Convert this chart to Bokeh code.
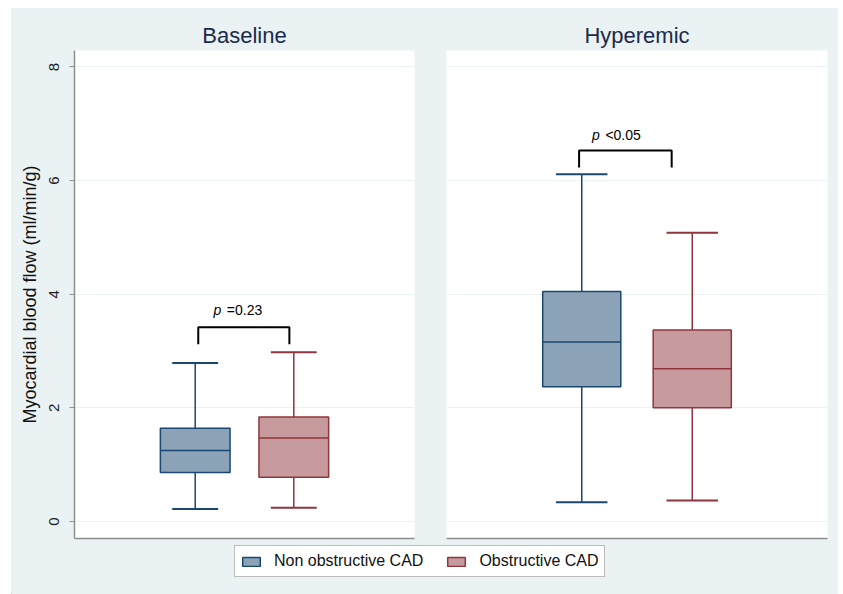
from bokeh.plotting import figure
from bokeh.models import Range1d, FixedTicker, Legend, LegendItem, ColumnDataSource
from bokeh.layouts import column, row
from bokeh.embed import file_html
from bokeh.resources import INLINE
from bokeh.core.properties import value

# ---------------- data ----------------
groups = ["Non obstructive CAD", "Obstructive CAD"]
panels = ["Baseline", "Hyperemic"]

base_lower = [0.22, 0.24]
base_q1 = [0.86, 0.78]
base_median = [1.25, 1.47]
base_q3 = [1.64, 1.84]
base_upper = [2.79, 2.98]

hyp_lower = [0.34, 0.37]
hyp_q1 = [2.37, 2.00]
hyp_median = [3.16, 2.69]
hyp_q3 = [4.05, 3.37]
hyp_upper = [6.11, 5.08]

p_labels = ["=0.23", "<0.05"]
y_ticks = [0, 2, 4, 6, 8]

# ---------------- styling / positions ----------------
BG = "#eaf2f3"
FONT = "Liberation Sans"
fills = ["#8ca3b7", "#c79a9d"]
lines = ["#1a476f", "#90353b"]
box_pos = [0.355, 0.645]
box_w = 0.205
cap_w = 0.135
bracket_x = [(0.364, 0.632), (0.348, 0.591)]
bracket_y = [(3.42, 3.12), (6.53, 6.23)]
ptext_x = [(0.409, 0.448), (0.382, 0.417)]
ptext_y = [3.72, 6.81]

stats = [
    (base_lower, base_q1, base_median, base_q3, base_upper),
    (hyp_lower, hyp_q1, hyp_median, hyp_q3, hyp_upper),
]


def make_panel(i, width, bl, br, show_y):
    p = figure(width=width, height=536, output_backend="svg", toolbar_location=None,
               x_range=Range1d(0, 1), y_range=Range1d(-0.3, 8.29),
               min_border_left=bl, min_border_right=br, min_border_top=42,
               min_border_bottom=6)
    p.border_fill_color = BG
    p.background_fill_color = "white"
    p.outline_line_color = None
    p.title.text = panels[i]
    p.title.align = "center"
    p.title.text_font = FONT
    p.title.text_font_size = "22px"
    p.title.text_font_style = "normal"
    p.title.text_color = "#1c2b4d"
    p.title.standoff = 6

    # axes
    p.xaxis.ticker = FixedTicker(ticks=[])
    p.xaxis.major_tick_line_color = None
    p.xaxis.minor_tick_line_color = None
    p.xaxis.major_label_standoff = 0
    p.xaxis.axis_line_color = "#8e8e8e"
    p.xaxis.axis_line_width = 1.5
    p.xgrid.visible = False

    p.yaxis.ticker = FixedTicker(ticks=y_ticks)
    p.ygrid.ticker = FixedTicker(ticks=y_ticks)
    p.ygrid.grid_line_color = BG
    p.ygrid.grid_line_width = 1
    if show_y:
        p.yaxis.axis_label = "Myocardial blood flow (ml/min/g)"
        p.yaxis.axis_label_text_font = FONT
        p.yaxis.axis_label_text_font_size = "18px"
        p.yaxis.axis_label_text_font_style = "normal"
        p.yaxis.axis_label_text_color = "#111111"
        p.yaxis.axis_label_standoff = 7
        p.yaxis.major_label_orientation = "vertical"
        p.yaxis.major_label_text_font = FONT
        p.yaxis.major_label_text_font_size = "15px"
        p.yaxis.major_label_text_color = "#222222"
        p.yaxis.major_label_standoff = 10
        p.yaxis.axis_line_color = "#8e8e8e"
        p.yaxis.axis_line_width = 1.5
        p.yaxis.major_tick_line_color = "#8e8e8e"
        p.yaxis.major_tick_out = 5
        p.yaxis.major_tick_in = 0
        p.yaxis.minor_tick_line_color = None
    else:
        p.yaxis.visible = False

    lo, q1, med, q3, up = stats[i]
    src = ColumnDataSource(dict(
        x=box_pos, lo=lo, q1=q1, med=med, q3=q3, up=up,
        xl=[b - box_w / 2 for b in box_pos], xr=[b + box_w / 2 for b in box_pos],
        cl=[b - cap_w / 2 for b in box_pos], cr=[b + cap_w / 2 for b in box_pos],
        fill=fills, line=lines))
    # whiskers
    p.segment(x0="x", y0="q3", x1="x", y1="up", line_color="line", line_width=1.5, source=src)
    p.segment(x0="x", y0="lo", x1="x", y1="q1", line_color="line", line_width=1.5, source=src)
    p.segment(x0="cl", y0="up", x1="cr", y1="up", line_color="line", line_width=2, source=src)
    p.segment(x0="cl", y0="lo", x1="cr", y1="lo", line_color="line", line_width=2, source=src)
    # boxes
    p.vbar(x="x", width=box_w, bottom="q1", top="q3", fill_color="fill",
           line_color="line", line_width=1.5, source=src)
    p.segment(x0="xl", y0="med", x1="xr", y1="med", line_color="line", line_width=1.5, source=src)

    # bracket
    bx0, bx1 = bracket_x[i]
    byt, byb = bracket_y[i]
    p.line(x=[bx0, bx0, bx1, bx1], y=[byb, byt, byt, byb], line_color="black", line_width=2)
    tx0, tx1 = ptext_x[i]
    p.text(x=[tx0], y=[ptext_y[i]], text=["p"], text_font=value(FONT), text_font_size="14px",
           text_font_style="italic", text_baseline="middle", text_align="left", text_color="black")
    p.text(x=[tx1], y=[ptext_y[i]], text=[p_labels[i]], text_font=value(FONT), text_font_size="14px",
           text_baseline="middle", text_align="left", text_color="black")
    return p


p1 = make_panel(0, 419, 63, 16, True)
p2 = make_panel(1, 408, 16, 11, False)

# legend figure
p3 = figure(width=827, height=50, output_backend="svg", toolbar_location=None,
            x_range=Range1d(0, 1), y_range=Range1d(0, 1),
            x_axis_type=None, y_axis_type=None,
            min_border_left=0, min_border_right=0, min_border_top=0, min_border_bottom=0)
p3.border_fill_color = BG
p3.background_fill_color = BG
p3.outline_line_color = None
p3.xgrid.visible = False
p3.ygrid.visible = False
items = []
for g, f, l in zip(groups, fills, lines):
    r = p3.vbar(x=[-5], top=[-5], bottom=[-6], width=0.1, fill_color=f, line_color=l, line_width=1.5)
    items.append(LegendItem(label=g, renderers=[r]))
leg = Legend(items=items, orientation="horizontal", location=(223, 17),
             label_text_font=FONT, label_text_font_size="16px", label_text_color="#111111",
             glyph_width=22, glyph_height=11, label_standoff=12, spacing=22,
             padding=5, margin=0, label_height=20,
             border_line_color="#7a7a7a", border_line_width=1,
             background_fill_color="white", background_fill_alpha=1)
p3.add_layout(leg, "center")

top = row(p1, p2, spacing=0, styles={"background-color": BG})
layout = column(top, p3, spacing=0, margin=(8, 0, 0, 11), styles={"background-color": BG})
open("out.html", "w").write(file_html(layout, INLINE))
